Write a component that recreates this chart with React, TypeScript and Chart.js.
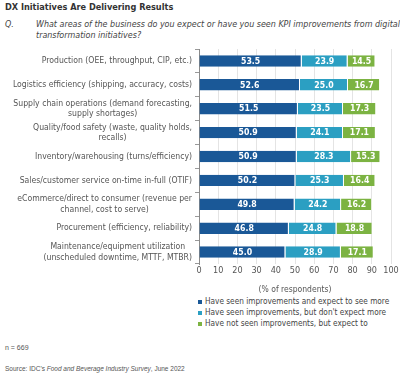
import React, { useEffect, useRef } from "react";
import { Chart, registerables } from "chart.js";

Chart.register(...registerables);

const TITLE = "DX Initiatives Are Delivering Results";
const QUESTION_LINES = [
  "What areas of the business do you expect or have you seen KPI improvements from digital",
  "transformation initiatives?",
];
const NOTE = "n = 669";

const CATEGORIES: string[][] = [
  ["Production (OEE, throughput, CIP, etc.)"],
  ["Logistics efficiency (shipping, accuracy, costs)"],
  ["Supply chain operations (demand forecasting,", "supply shortages)"],
  ["Quality/food safety (waste, quality holds,", "recalls)"],
  ["Inventory/warehousing (turns/efficiency)"],
  ["Sales/customer service on-time in-full (OTIF)"],
  ["eCommerce/direct to consumer (revenue per", "channel, cost to serve)"],
  ["Procurement (efficiency, reliability)"],
  ["Maintenance/equipment utilization", "(unscheduled downtime, MTTF, MTBR)"],
];

const SERIES_NAMES = [
  "Have seen improvements and expect to see more",
  "Have seen improvements, but don't expect more",
  "Have not seen improvements, but expect to",
];

const SEEN_EXPECT_MORE = [53.5, 52.6, 51.5, 50.9, 50.9, 50.2, 49.8, 46.8, 45.0];
const SEEN_NO_MORE = [23.9, 25.0, 23.5, 24.1, 28.3, 25.3, 24.2, 24.8, 28.9];
const NOT_SEEN_EXPECT = [14.5, 16.7, 17.3, 17.1, 15.3, 16.4, 16.2, 18.8, 17.1];

const X_MIN = 0;
const X_MAX = 100;
const X_STEP = 10;
const X_TITLE = "(% of respondents)";

const COLORS = ["#1a5897", "#2b9fc2", "#7cb342"];
const FONT = "'DejaVu Sans Condensed', 'DejaVu Sans', sans-serif";
const NOTE_FONT = "'Liberation Sans', Arial, sans-serif";

const labelPlugin = {
  id: "customLabels",
  afterDatasetsDraw(chart: any) {
    const ctx = chart.ctx;
    ctx.save();
    ctx.font = `bold 8.7px ${FONT}`;
    ctx.fillStyle = "#ffffff";
    ctx.textAlign = "center";
    ctx.textBaseline = "middle";
    chart.data.datasets.forEach((ds: any, di: number) => {
      const meta = chart.getDatasetMeta(di);
      meta.data.forEach((el: any, i: number) => {
        const v = ds.data[i];
        const cx = (el.x + el.base) / 2;
        ctx.fillText(v.toFixed(1), cx, el.y + 0.5);
      });
    });
    ctx.restore();
  },
  afterDraw(chart: any) {
    const ctx = chart.ctx;
    const y = chart.scales.y;
    ctx.save();
    ctx.font = `8.6px ${FONT}`;
    ctx.fillStyle = "#555555";
    ctx.textAlign = "center";
    ctx.textBaseline = "middle";
    const right = y.right - 7;
    const lh = 10.5;
    CATEGORIES.forEach((lines, i) => {
      const cy = y.getPixelForValue(i);
      const w = Math.max(...lines.map((l) => ctx.measureText(l).width));
      const cx = right - w / 2;
      const top = cy - ((lines.length - 1) * lh) / 2;
      lines.forEach((l, k) => ctx.fillText(l, cx, top + k * lh));
    });
    ctx.restore();
  },
};

function BarChart() {
  const ref = useRef<HTMLCanvasElement | null>(null);
  useEffect(() => {
    if (!ref.current) return;
    const chart = new Chart(ref.current, {
      type: "bar",
      data: {
        labels: CATEGORIES.map((c) => c.join(" ")),
        datasets: [SEEN_EXPECT_MORE, SEEN_NO_MORE, NOT_SEEN_EXPECT].map((d, i) => ({
          label: SERIES_NAMES[i],
          data: d,
          backgroundColor: COLORS[i],
          borderColor: "#ffffff",
          borderWidth: { left: 0, right: 1, top: 0, bottom: 0 },
          borderSkipped: false,
          barPercentage: 0.48,
          categoryPercentage: 1,
        })),
      },
      options: {
        indexAxis: "y",
        animation: false,
        responsive: false,
        maintainAspectRatio: false,
        layout: { padding: { top: 3, right: 9, left: 0, bottom: 0 } },
        plugins: { legend: { display: false }, tooltip: { enabled: false } },
        scales: {
          x: {
            stacked: true,
            min: X_MIN,
            max: X_MAX,
            ticks: {
              stepSize: X_STEP,
              font: { family: FONT, size: 9 },
              color: "#555555",
              padding: 1,
              maxRotation: 0,
              minRotation: 0,
              autoSkipPadding: 0,
            },
            grid: { color: "#e4e4e4", drawTicks: false },
            border: { display: false },
            title: {
              display: true,
              text: X_TITLE,
              font: { family: FONT, size: 8.5 },
              color: "#555555",
              padding: { top: 8, bottom: 0 },
            },
          },
          y: {
            stacked: true,
            ticks: { display: false },
            grid: { offset: true, drawOnChartArea: false, tickLength: 4, color: "#999999" },
            border: { display: true, color: "#8a8a8a" },
            afterFit: (s: any) => {
              s.width = 199;
            },
          },
        },
      },
      plugins: [labelPlugin],
    });
    return () => chart.destroy();
  }, []);
  return <canvas ref={ref} width={400} height={249} style={{ position: "absolute", left: 0, top: 46, width: 400, height: 249 }} />;
}

export default function App() {
  useEffect(() => {
    document.body.style.margin = "0";
  }, []);
  return (
    <div style={{ position: "relative", width: 400, height: 376, background: "#fff", fontFamily: FONT, overflow: "hidden" }}>
      <div style={{ position: "absolute", left: 5, top: 2, fontSize: 9.1, fontWeight: "bold", color: "#333", whiteSpace: "nowrap" }}>{TITLE}</div>
      <div style={{ position: "absolute", left: 5, top: 19, fontSize: 8.9, fontStyle: "italic", color: "#444" }}>Q.</div>
      <div style={{ position: "absolute", left: 36, top: 19, fontSize: 8.9, lineHeight: "11px", fontStyle: "italic", color: "#444", whiteSpace: "nowrap" }}>
        {QUESTION_LINES.map((l) => (
          <div key={l}>{l}</div>
        ))}
      </div>
      <BarChart />
      <div style={{ position: "absolute", left: 198, top: 296, fontSize: 8.2, color: "#444", lineHeight: "11px" }}>
        {SERIES_NAMES.map((n, i) => (
          <div key={n} style={{ display: "flex", alignItems: "center", whiteSpace: "nowrap" }}>
            <span style={{ display: "inline-block", width: 4, height: 4, background: COLORS[i], marginRight: 3 }} />
            {n}
          </div>
        ))}
      </div>
      <div style={{ position: "absolute", left: 5, top: 344, fontSize: 7, color: "#555", fontFamily: NOTE_FONT }}>{NOTE}</div>
      <div style={{ position: "absolute", left: 5, top: 365, fontSize: 6.5, color: "#555", fontFamily: NOTE_FONT }}>
        Source: IDC's <i>Food and Beverage Industry Survey</i>, June 2022
      </div>
    </div>
  );
}
